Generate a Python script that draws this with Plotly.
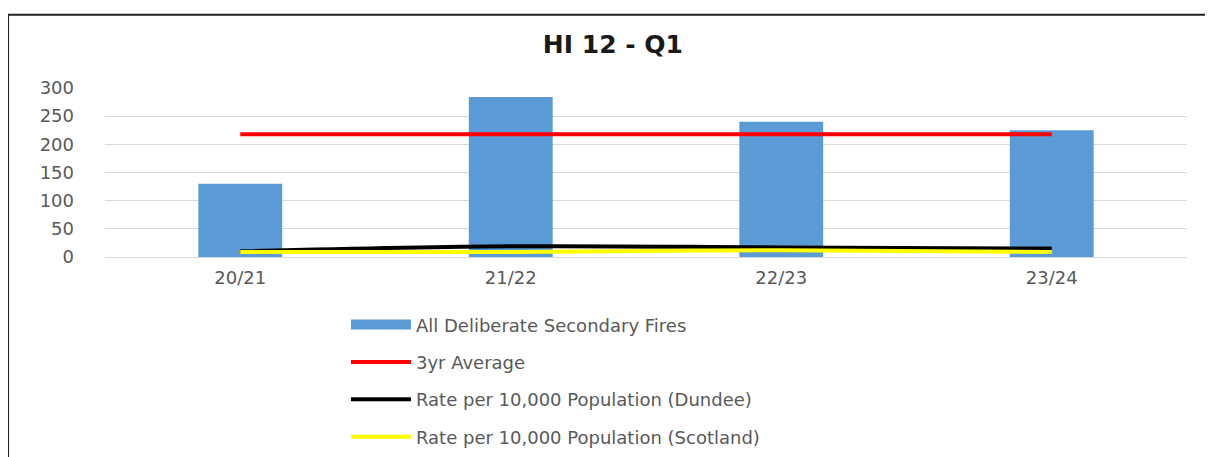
import plotly.graph_objects as go

categories = ["20/21", "21/22", "22/23", "23/24"]
all_fires = [130, 284, 240, 225]
three_yr_avg = [218, 218, 218, 218]
rate_dundee = [10, 19, 17, 15]
rate_scotland = [9, 9, 12, 9]
y_ticks = [0, 50, 100, 150, 200, 250, 300]

GRAY = "#595959"
FONT = "DejaVu Sans"
BLUE = "#5b9bd5"

fig = go.Figure()
fig.add_trace(go.Bar(x=categories, y=all_fires, name="All Deliberate Secondary Fires",
                     marker=dict(color=BLUE, line=dict(width=0)), width=0.31,
                     legendgroup="a", showlegend=False))
# legend entry for the bars, drawn as a wide block like the original
fig.add_trace(go.Scatter(x=categories, y=[None] * len(categories), name="All Deliberate Secondary Fires",
                         mode="lines", line=dict(color=BLUE, width=11), legendgroup="a",
                         hoverinfo="skip"))
fig.add_trace(go.Scatter(x=categories, y=three_yr_avg, name="3yr Average", mode="lines",
                         line=dict(color="#ff0000", width=4), legendgroup="b"))
fig.add_trace(go.Scatter(x=categories, y=rate_dundee, name="Rate per 10,000 Population (Dundee)",
                         mode="lines", line=dict(color="#000000", width=4, shape="spline"),
                         legendgroup="c"))
fig.add_trace(go.Scatter(x=categories, y=rate_scotland, name="Rate per 10,000 Population (Scotland)",
                         mode="lines", line=dict(color="#ffff00", width=4, shape="spline"),
                         legendgroup="d"))

fig.update_layout(
    width=1205, height=480,
    margin=dict(l=97, r=26, t=80, b=231),
    paper_bgcolor="white", plot_bgcolor="white",
    font=dict(family=FONT, color=GRAY, size=18),
    title=dict(text="<b>HI 12 - Q1</b>", x=0.502, xanchor="center", xref="container",
               y=1 - 36 / 480, yref="container", yanchor="middle",
               font=dict(family=FONT, size=25, color="#1a1a1a")),
    showlegend=True,
    legend=dict(orientation="v", x=0.2227, xanchor="left", y=-0.292, yanchor="top",
                font=dict(family=FONT, size=18, color=GRAY), tracegroupgap=11,
                itemwidth=60, bgcolor="rgba(0,0,0,0)", traceorder="grouped"),
    xaxis=dict(showgrid=False, showline=False, zeroline=False, ticks="",
               tickfont=dict(family=FONT, size=18, color=GRAY), ticklabelstandoff=8),
    yaxis=dict(range=[0, 300], tickvals=y_ticks, showgrid=True, gridcolor="#d9d9d9", gridwidth=1,
               zeroline=True, zerolinecolor="#d9d9d9", zerolinewidth=1, showline=False,
               ticks="", tickfont=dict(family=FONT, size=18, color=GRAY), ticklabelstandoff=30),
    shapes=[dict(type="rect", xref="paper", yref="paper", x0=-0.0896, x1=1.1, y0=-1.5, y1=1.433,
                 line=dict(color="#222222", width=2), fillcolor="rgba(0,0,0,0)", layer="above")],
)

fig.write_html("out.html")
